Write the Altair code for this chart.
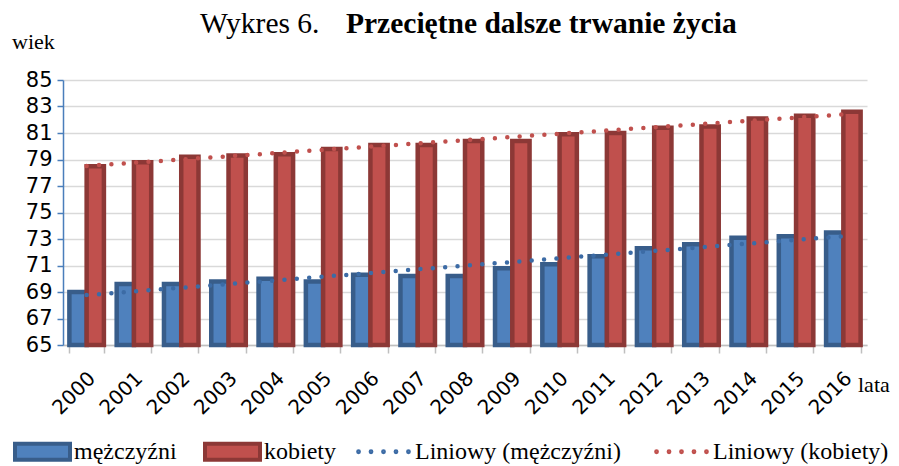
import altair as alt
import pandas as pd

years = [2000, 2001, 2002, 2003, 2004, 2005, 2006, 2007, 2008,
         2009, 2010, 2011, 2012, 2013, 2014, 2015, 2016]
men = [69.0, 69.6, 69.6, 69.8, 70.0, 69.8, 70.3, 70.2, 70.2,
       70.8, 71.1, 71.7, 72.3, 72.6, 73.1, 73.2, 73.5]
women = [78.5, 78.8, 79.2, 79.3, 79.4, 79.8, 80.1, 80.1, 80.4,
         80.4, 80.9, 81.0, 81.4, 81.5, 82.1, 82.3, 82.6]
series_names = ["mężczyźni", "kobiety"]
trend_names = ["Liniowy (mężczyźni)", "Liniowy (kobiety)"]
y_ticks = [65, 67, 69, 71, 73, 75, 77, 79, 81, 83, 85]

title_a = "Wykres 6."
title_b = "Przeciętne dalsze trwanie życia"
y_label = "wiek"
x_label = "lata"

BLUE = "#4F81BD"
BLUE_DARK = "#385D8A"
BLUE_TREND = "#3C6BA5"
RED = "#C0504D"
RED_DARK = "#8C3836"

# legend symbol for the dotted trend lines: a row of five small dots
_r = 0.05
_dot_centres = [-0.96, -0.48, 0.0, 0.48, 0.96]
DOTS_PATH = "".join(
    f"M{c - _r:.3f},0a{_r},{_r} 0 1,0 {2 * _r},0a{_r},{_r} 0 1,0 {-2 * _r},0"
    for c in _dot_centres
)

df = pd.DataFrame({
    "rok": years * 2,
    "wiek": men + women,
    "plec": [series_names[0]] * len(years) + [series_names[1]] * len(years),
})

base = alt.Chart(df)

x_enc = alt.X(
    "rok:O", title=None,
    scale=alt.Scale(paddingInner=0.27, paddingOuter=0.135),
    axis=alt.Axis(labelAngle=-45, labelAlign="right", labelBaseline="middle",
                  labelFont="DejaVu Sans", labelFontSize=20, labelColor="black",
                  labelPadding=22, labelOffset=5, tickBand="extent", tickSize=8,
                  tickColor="#BFBFBF", tickWidth=1.5, domainColor="#BFBFBF",
                  domainWidth=1.5, grid=False),
)

y_enc = alt.Y(
    "wiek:Q", title=None,
    scale=alt.Scale(domain=[65, 85], zero=False, nice=False),
    axis=alt.Axis(values=y_ticks, labelOverlap=False, labelFont="DejaVu Sans",
                  labelFontSize=21, labelColor="black", labelPadding=5,
                  domainColor="#4A7EBB", domainWidth=1.5, tickColor="#4A7EBB",
                  tickSize=6, tickWidth=1.5, gridColor="#D9D9D9", gridWidth=1.5),
)

bars = base.mark_bar(strokeWidth=4.5, strokeJoin="miter").encode(
    x=x_enc,
    xOffset=alt.XOffset("plec:N", sort=series_names,
                        scale=alt.Scale(paddingInner=0, paddingOuter=0)),
    y=y_enc,
    y2=alt.datum(65),
    fill=alt.Fill("plec:N", sort=series_names,
                  scale=alt.Scale(domain=series_names, range=[BLUE, RED]),
                  legend=alt.Legend(
                      title=None, orient="none", legendX=-50, legendY=342,
                      direction="horizontal",
                      symbolType="M-1,-0.29H1V0.29H-1Z", symbolSize=3025,
                      symbolStrokeWidth=4,
                      symbolStrokeColor={"expr": "datum.value === 'mężczyźni' ? '#385D8A' : '#8C3836'"},
                      labelFont="Liberation Serif", labelFontSize=24,
                      labelColor="black", labelOffset=2, columnPadding=20,
                      labelLimit=400, symbolOpacity=1)),
    stroke=alt.when(alt.datum.plec == series_names[0])
              .then(alt.value(BLUE_DARK)).otherwise(alt.value(RED_DARK)),
)

trend = base.transform_regression(
    "rok", "wiek", groupby=["plec"], method="linear"
).transform_calculate(
    trend="'Liniowy (' + datum.plec + ')'"
).mark_line(strokeDash=[0, 12.4], strokeCap="round", strokeWidth=4.5).encode(
    x=x_enc,
    y=y_enc,
    stroke=alt.Stroke("trend:N",
                      scale=alt.Scale(domain=trend_names, range=[BLUE_TREND, RED]),
                      legend=alt.Legend(
                          title=None, orient="none", legendX=293, legendY=344,
                          direction="horizontal", symbolType=DOTS_PATH,
                          symbolSize=2704, symbolStrokeWidth=2.2,
                          labelFont="Liberation Serif", labelFontSize=24,
                          labelColor="black", labelOffset=4, columnPadding=29,
                          labelLimit=400)),
)


def label(text, px, py, size, weight="normal"):
    return alt.Chart(alt.Data(values=[{"t": text}])).mark_text(
        align="left", baseline="alphabetic", font="Liberation Serif",
        fontSize=size, fontWeight=weight, color="black",
    ).encode(x=alt.value(px), y=alt.value(py), text="t:N")


chart = alt.layer(
    bars, trend,
    label(title_a, 137, -47, 29.5),
    label(title_b, 283, -47, 29.5, "bold"),
    label(y_label, -51, -31, 22),
    label(x_label, 795, 312, 22),
).properties(
    width=804, height=265,
    autosize=alt.AutoSizeParams(type="none"),
    padding={"left": 55, "top": 72, "right": 24, "bottom": 121},
).configure_view(stroke=None)

chart.save("out.html", embed_options={"renderer": "svg", "actions": False})
